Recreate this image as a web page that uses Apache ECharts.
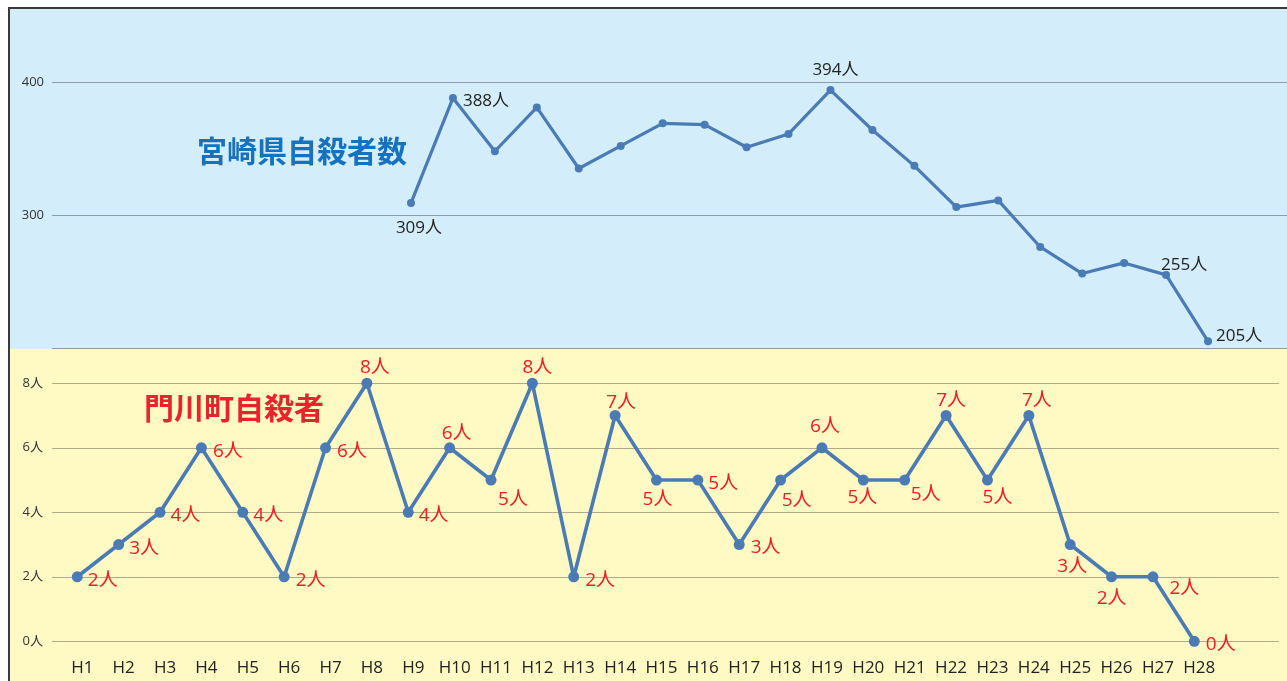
<!DOCTYPE html>
<html><head><meta charset="utf-8">
<script src="https://cdn.jsdelivr.net/npm/echarts@6/dist/echarts.min.js"></script>
<style>html,body{margin:0;padding:0;background:#fff;overflow:hidden}#c{width:1287px;height:681px}</style>
</head><body><div id="c"></div><script>
// ---- data ----
const years = ['H1','H2','H3','H4','H5','H6','H7','H8','H9','H10','H11','H12','H13','H14','H15','H16','H17','H18','H19','H20','H21','H22','H23','H24','H25','H26','H27','H28'];
const miyazaki = [null,null,null,null,null,null,null,null,309,388,348,381,335,352,369,368,351,361,394,364,337,306,311,276,256,264,255,205];
const kadogawa = [2,3,4,6,4,2,6,8,4,6,5,8,2,7,5,5,3,5,6,5,5,7,5,7,3,2,2,0];
const miyazakiTitle = '宮崎県自殺者数';
const kadogawaTitle = '門川町自殺者';
const unit = '人';

// ---- label placement (style only) ----
const kadoPlace = [
 ['right',0,2],['right',0,3],['right',0,2],['right',1,2],['right',0,2],['right',1,2],['right',1,2],['top',8,3],
 ['right',0,2],['top',7,4],['bottom',22,-1.5],['top',5,2.5],['right',1,2],['top',6,5.5],['bottom',1,-2],['right',0,2],
 ['right',1,2],['bottom',16,-1],['top',3,-3],['bottom',-1,-4],['bottom',21,-6.5],['top',5,4],['bottom',10,-4],['top',8,4],
 ['bottom',2,1],['bottom',0,0],['right',6,10],['right',1,2]
];
const miyaPlace = {8:['bottom',8,6],9:['right',1,2],18:['top',5,-4],26:['top',18,6],27:['right',-1,-7]};

const FONT = "'Noto Sans CJK JP','Noto Sans',sans-serif";
const NUMFONT = "'Open Sans','Noto Sans CJK JP',sans-serif";
const LINE = '#4a7bb5';

const kadoData = kadogawa.map((v,i)=>{
  const p = kadoPlace[i];
  return {value:v, label:{position:p[0], offset:[p[1],p[2]+1.5]}};
});
const miyaData = miyazaki.map((v,i)=>{
  const p = miyaPlace[i];
  if (!p) return {value:v, label:{show:false}};
  return {value:v, label:{show:true, position:p[0], offset:[p[1],p[2]+1.5]}};
});

const chart = echarts.init(document.getElementById('c'), null, {renderer:'canvas'});
const hiddenCat = {type:'category', data:years, show:false, boundaryGap:true};
chart.setOption({
  animation:false,
  textStyle:{fontFamily:FONT},
  graphic:[
    {type:'rect', z:-10, shape:{x:9,y:9,width:1280,height:340}, style:{fill:'#d3eefa'}},
    {type:'rect', z:-10, shape:{x:9,y:349,width:1280,height:334}, style:{fill:'#fff9c4'}},
    {type:'line', z:10, shape:{x1:9,y1:8,x2:9,y2:683}, style:{stroke:'#3a3a3a',lineWidth:2}},
    {type:'line', z:10, shape:{x1:8,y1:8,x2:1289,y2:8}, style:{stroke:'#3a3a3a',lineWidth:2}}
  ],
  title:[
    {text:miyazakiTitle, left:197, top:136, padding:0, textStyle:{fontFamily:FONT,fontSize:30,fontWeight:'bold',color:'#1672bd'}},
    {text:kadogawaTitle, left:144, top:393, padding:0, textStyle:{fontFamily:FONT,fontSize:30,fontWeight:'bold',color:'#e8232b'}}
  ],
  grid:[
    {left:52, right:0, top:9, height:339},
    {left:54.4, right:58, top:9, height:339},
    {left:52, right:8, top:351, height:290.3},
    {left:56.6, right:72, top:351, height:290.3}
  ],
  xAxis:[
    Object.assign({gridIndex:0}, hiddenCat),
    Object.assign({gridIndex:1}, hiddenCat),
    Object.assign({gridIndex:2}, hiddenCat),
    {gridIndex:3, type:'category', data:years, boundaryGap:true,
     axisLine:{show:false}, axisTick:{show:false},
     axisLabel:{color:'#222', fontSize:17, margin:18, padding:[0,0,0,10], fontFamily:NUMFONT, interval:0}}
  ],
  yAxis:[
    {gridIndex:0, type:'value', min:200, max:455, interval:100,
     axisLine:{show:false}, axisTick:{show:false},
     axisLabel:{color:'#333', fontSize:13, margin:8, showMinLabel:false, showMaxLabel:false, fontFamily:NUMFONT},
     splitLine:{show:true, showMaxLine:false, lineStyle:{color:'#8d9ca6', width:1.2}}},
    {gridIndex:1, type:'value', min:200, max:455, show:false, splitLine:{show:false}},
    {gridIndex:2, type:'value', min:0, max:9, interval:2,
     axisLine:{show:false}, axisTick:{show:false},
     axisLabel:{color:'#333', fontSize:13, margin:9, showMaxLabel:false, formatter:'{value}'+unit, fontFamily:NUMFONT},
     splitLine:{show:true, showMaxLine:false, lineStyle:{color:'#b2aa88', width:1.2}}},
    {gridIndex:3, type:'value', min:0, max:9, show:false, splitLine:{show:false}}
  ],
  series:[
    {type:'line', xAxisIndex:1, yAxisIndex:1, data:miyaData, connectNulls:false,
     symbol:'circle', symbolSize:8, showAllSymbol:true,
     lineStyle:{color:LINE, width:3.2}, itemStyle:{color:LINE},
     label:{show:true, formatter:'{c}'+unit, color:'#222', fontSize:17, fontFamily:NUMFONT}},
    {type:'line', xAxisIndex:3, yAxisIndex:3, data:kadoData,
     symbol:'circle', symbolSize:11, showAllSymbol:true,
     lineStyle:{color:LINE, width:3.6}, itemStyle:{color:LINE},
     label:{show:true, formatter:'{c}'+unit, color:'#ee1c25', fontSize:19, fontFamily:NUMFONT}}
  ]
});
</script></body></html>
